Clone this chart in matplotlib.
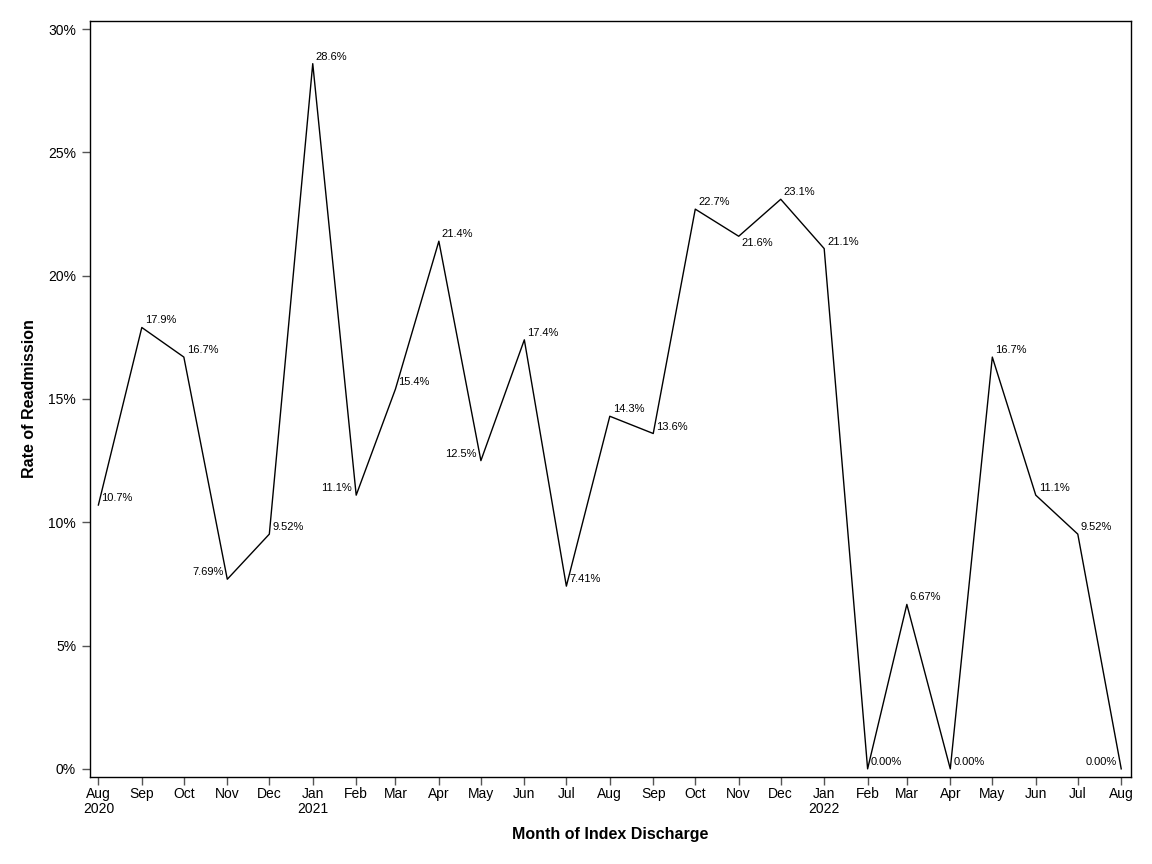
import datetime as dt
import matplotlib
matplotlib.use("Agg")
import matplotlib.pyplot as plt
import matplotlib.dates as mdates
from matplotlib.ticker import FuncFormatter, MultipleLocator

plt.rcParams['font.family'] = ['Liberation Sans', 'DejaVu Sans']

# monthly readmission rate (%) by month of index discharge, Aug 2020 - Aug 2022
months = [dt.date(2020 + (7 + i) // 12, (7 + i) % 12 + 1, 1) for i in range(25)]
rates = [10.7, 17.9, 16.7, 7.69, 9.52, 28.6, 11.1, 15.4, 21.4, 12.5, 17.4, 7.41,
         14.3, 13.6, 22.7, 21.6, 23.1, 21.1, 0.0, 6.67, 0.0, 16.7, 11.1, 9.52, 0.0]

x_label = "Month of Index Discharge"
y_label = "Rate of Readmission"

# where each point label sits: 'r' right/above, 'l' left/above, 'b' right/below
label_side = ['r', 'r', 'r', 'l', 'r', 'r', 'l', 'r', 'r', 'l', 'r', 'r',
              'r', 'r', 'r', 'b', 'r', 'r', 'r', 'r', 'r', 'r', 'r', 'r', 'l']


def fmt_rate(v):
    if v >= 10:
        return f"{v:.1f}%"
    return f"{v:.2f}%"


fig = plt.figure(figsize=(11.52, 8.64), dpi=100)
ax = fig.add_axes([0.0781, 0.1007, 0.9818 - 0.0781, 0.9757 - 0.1007])

ax.plot(months, rates, color='black', linewidth=1.0)

for m, v, side in zip(months, rates, label_side):
    if side == 'l':
        off, ha, va = (-4, 2), 'right', 'bottom'
    elif side == 'b':
        off, ha, va = (3, -2), 'left', 'top'
    else:
        off, ha, va = (3, 2), 'left', 'bottom'
    ax.annotate(fmt_rate(v), (m, v), xytext=off, textcoords='offset pixels',
                ha=ha, va=va, fontsize=8)

ax.set_ylim(-0.33, 30.33)
ax.set_xlim(dt.date(2020, 7, 26), dt.date(2022, 8, 8))
ax.yaxis.set_major_locator(MultipleLocator(5))
ax.yaxis.set_major_formatter(FuncFormatter(lambda v, p: f"{v:.0f}%"))

ax.xaxis.set_major_locator(mdates.MonthLocator())


def month_fmt(x, pos):
    d = mdates.num2date(x)
    s = d.strftime("%b")
    if pos == 0 or d.month == 1:
        s += "\n" + str(d.year)
    return s


ax.xaxis.set_major_formatter(FuncFormatter(month_fmt))

ax.tick_params(axis='both', direction='out', length=6, width=1, color='#555555',
               labelsize=10)
ax.tick_params(axis='x', pad=1)
ax.tick_params(axis='y', pad=4)
for lbl in ax.get_xticklabels():
    lbl.set_linespacing(1.1)
for sp in ax.spines.values():
    sp.set_linewidth(1.0)

ax.set_xlabel(x_label, fontsize=11.5, fontweight='bold', labelpad=8)
ax.set_ylabel(y_label, fontsize=11.5, fontweight='bold', labelpad=8)

fig.savefig("out.png", dpi=100)
